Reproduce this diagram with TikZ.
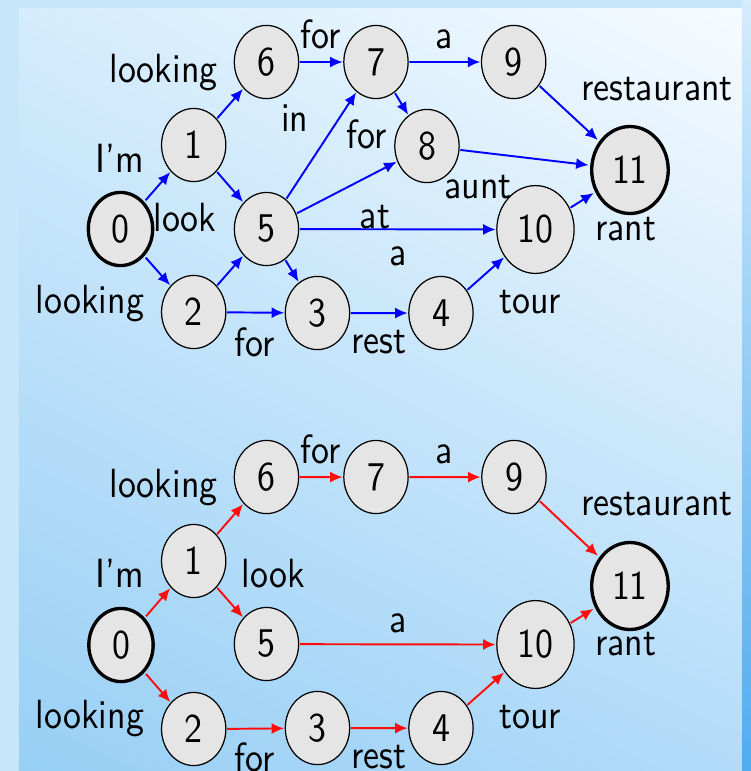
\documentclass[tikz,border=0pt]{standalone}
\usepackage{tikz}
\usetikzlibrary{arrows.meta}
\usetikzlibrary{shadings}
\tikzset{state/.style = {circle, draw, fill = black!10, minimum size = 0.63cm, inner sep = 0.3333em, line width = 0.7pt}}
\tikzset{final/.style = {state, line width = 1.9pt}}
\tikzset{word/.style = {anchor = base, inner sep = 0}}
\tikzset{arc/.style = {-{Latex[length = 0.25cm, width = 0.22cm]}, line width = 1.1pt}}
\definecolor{mblue}{rgb}{0, 0, 1}
\definecolor{mred}{rgb}{1, 0.05, 0.05}
\definecolor{bgul}{RGB}{212, 236, 252}
\definecolor{bgur}{RGB}{246, 251, 255}
\definecolor{bgll}{RGB}{152, 207, 245}
\definecolor{bglr}{RGB}{178, 220, 249}
\definecolor{bgedge}{RGB}{200, 230, 250}

\begin{document}
\begin{tikzpicture}[x = 0.0097943cm, y = -0.0086207cm, scale = 2.32, xscale = 0.88,
    every node/.style = {transform shape, font = \sffamily}]
          \useasboundingbox (0, 0) rectangle (751, 771);
          \fill [bgedge] (0, 0) rectangle (751, 771);
          \shade [top color = bgul, bottom color = {rgb,255:red,80;green,172;blue,240}] (742, 0) rectangle (751, 771);
          \shade [upper left = bgul, upper right = bgur, lower left = bgll, lower right = bglr] (19, 8) rectangle (742, 771);

          \node [final] (t0) at (120.5, 229) {0};
          \node [state] (t1) at (193.7, 145) {1};
          \node [state] (t2) at (193.7, 312) {2};
          \node [state] (t3) at (317.5, 313) {3};
          \node [state] (t4) at (441, 313) {4};
          \node [state] (t5) at (266.5, 229) {5};
          \node [state] (t6) at (266.5, 62) {6};
          \node [state] (t7) at (376, 62) {7};
          \node [state] (t8) at (427, 146) {8};
          \node [state] (t9) at (513.7, 62) {9};
          \node [state] (t10) at (535.5, 229.5) {10};
          \node [final] (t11) at (630, 170) {11};

          \draw [arc, mblue] (t0) -- (t1);
          \draw [arc, mblue] (t0) -- (t2);
          \draw [arc, mblue] (t1) -- (t6);
          \draw [arc, mblue] (t1) -- (t5);
          \draw [arc, mblue] (t2) -- (t5);
          \draw [arc, mblue] (t2) -- (t3);
          \draw [arc, mblue] (t5) -- (t3);
          \draw [arc, mblue] (t5) -- (t7);
          \draw [arc, mblue] (t5) -- (t8);
          \draw [arc, mblue] (t5) -- (t10);
          \draw [arc, mblue] (t6) -- (t7);
          \draw [arc, mblue] (t7) -- (t9);
          \draw [arc, mblue] (t7) -- (t8);
          \draw [arc, mblue] (t3) -- (t4);
          \draw [arc, mblue] (t4) -- (t10);
          \draw [arc, mblue] (t8) -- (t11);
          \draw [arc, mblue] (t9) -- (t11);
          \draw [arc, mblue] (t10) -- (t11);

          \node [word] (tw1) at (120, 172) {I'm};
          \node [word] (tw2) at (90, 313) {looking};
          \node [word] (tw3) at (163.5, 82) {looking};
          \node [word] (tw4) at (185, 231.7) {look};
          \node [word] (tw5) at (321, 48) {for};
          \node [word] (tw6) at (444, 48) {a};
          \node [word] (tw7) at (295, 131) {in};
          \node [word] (tw8) at (367, 148) {for};
          \node [word] (tw9) at (375, 228) {at};
          \node [word] (tw10) at (398, 265) {a};
          \node [word] (tw11) at (255, 356) {for};
          \node [word] (tw12) at (379, 353) {rest};
          \node [word] (tw13) at (478, 198) {aunt};
          \node [word] (tw14) at (530, 313) {tour};
          \node [word] (tw15) at (657, 100) {restaurant};
          \node [word] (tw16) at (626, 240) {rant};

          \node [final] (b0) at (121, 645) {0};
          \node [state] (b1) at (193.7, 561) {1};
          \node [state] (b2) at (193.7, 729) {2};
          \node [state] (b3) at (317.5, 728) {3};
          \node [state] (b4) at (441, 728) {4};
          \node [state] (b5) at (266.5, 644) {5};
          \node [state] (b6) at (266.5, 477) {6};
          \node [state] (b7) at (376, 477) {7};
          \node [state] (b9) at (514, 477) {9};
          \node [state] (b10) at (535.5, 644.5) {10};
          \node [final] (b11) at (630, 586) {11};

          \draw [arc, mred] (b0) -- (b1);
          \draw [arc, mred] (b0) -- (b2);
          \draw [arc, mred] (b1) -- (b6);
          \draw [arc, mred] (b1) -- (b5);
          \draw [arc, mred] (b6) -- (b7);
          \draw [arc, mred] (b7) -- (b9);
          \draw [arc, mred] (b9) -- (b11);
          \draw [arc, mred] (b5) -- (b10);
          \draw [arc, mred] (b10) -- (b11);
          \draw [arc, mred] (b2) -- (b3);
          \draw [arc, mred] (b3) -- (b4);
          \draw [arc, mred] (b4) -- (b10);

          \node [word] (bw1) at (120, 587) {I'm};
          \node [word] (bw2) at (90, 728) {looking};
          \node [word] (bw3) at (163.5, 497) {looking};
          \node [word] (bw4) at (273.5, 587) {look};
          \node [word] (bw5) at (321, 463) {for};
          \node [word] (bw6) at (444, 463) {a};
          \node [word] (bw7) at (398, 632) {a};
          \node [word] (bw8) at (255, 771) {for};
          \node [word] (bw9) at (379, 768) {rest};
          \node [word] (bw10) at (530, 728) {tour};
          \node [word] (bw11) at (657, 515) {restaurant};
          \node [word] (bw12) at (626, 655) {rant};
        \end{tikzpicture}
\end{document}
